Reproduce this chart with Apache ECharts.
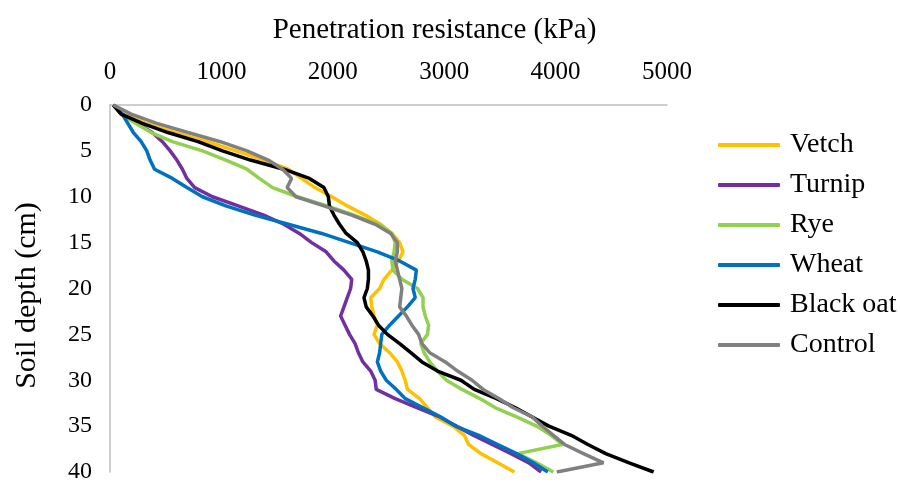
<!DOCTYPE html>
<html>
<head>
<meta charset="utf-8">
<script src="https://cdn.jsdelivr.net/npm/echarts@6/dist/echarts.min.js"></script>
<style>html,body{margin:0;padding:0;background:#fff;}#c{width:900px;height:484px;}</style>
</head>
<body>
<div id="c"></div>
<script>
const depths = [0,1,2,3,4,5,6,7,8,9,10,11,12,13,14,15,16,17,18,19,20,21,22,23,24,25,26,27,28,29,30,31,32,33,34,35,36,37,38,39,40];
const xTicks = [0,1000,2000,3000,4000,5000];
const yTicks = [0,5,10,15,20,25,30,35,40];
const vetch = [30,120,320,580,870,1130,1380,1600,1720,1840,1990,2130,2290,2430,2530,2600,2630,2590,2530,2460,2420,2340,2350,2370,2400,2370,2420,2510,2580,2620,2650,2670,2780,2850,2920,3080,3180,3220,3330,3480,3630];
const turnip = [30,110,240,380,470,540,600,650,690,760,920,1150,1380,1560,1700,1810,1940,2010,2100,2170,2160,2130,2100,2070,2110,2150,2200,2230,2270,2340,2380,2390,2560,2760,2960,3110,3260,3430,3600,3760,3870];
const rye = [30,100,230,370,560,830,1040,1230,1340,1460,1680,1950,2190,2410,2530,2560,2550,2530,2540,2620,2760,2810,2810,2830,2860,2850,2790,2820,2870,2940,3020,3160,3320,3460,3650,3830,3960,4060,3660,3830,3980];
const wheat = [30,110,160,210,280,330,360,400,560,690,830,1040,1300,1600,1900,2150,2400,2600,2750,2740,2720,2740,2670,2590,2510,2440,2430,2420,2400,2430,2480,2570,2650,2810,2970,3100,3310,3480,3650,3800,3930];
const blackOat = [30,100,290,520,790,1010,1260,1560,1790,1920,1960,1970,2010,2060,2120,2220,2270,2300,2320,2320,2310,2280,2300,2360,2410,2490,2600,2700,2800,2940,3150,3270,3470,3640,3790,3940,4140,4290,4450,4660,4880];
const control = [30,190,420,700,990,1230,1420,1550,1630,1590,1670,1920,2170,2380,2520,2580,2580,2560,2580,2600,2620,2610,2600,2660,2710,2770,2800,2870,3010,3120,3250,3350,3490,3620,3790,3880,3980,4080,4250,4430,4010];

const names = ['Vetch','Turnip','Rye','Wheat','Black oat','Control'];
const values = [vetch, turnip, rye, wheat, blackOat, control];
const colors = ['#FFC000','#7030A0','#92D050','#0070C0','#000000','#808080'];

const font = 'Liberation Serif, Times New Roman, serif';
const chart = echarts.init(document.getElementById('c'), null, {renderer:'canvas'});
chart.setOption({
  animation: false,
  backgroundColor: '#fff',
  textStyle: {fontFamily: font, color: '#000'},
  grid: {left: 110, right: 233, top: 105, bottom: 9, containLabel: false},
  legend: {
    orient: 'vertical', left: 713, top: 126,
    itemWidth: 62, itemHeight: 4, itemGap: 12,
    icon: 'roundRect',
    textStyle: {fontFamily: font, fontSize: 28, color: '#000', padding: [0,0,0,5]},
    data: names
  },
  xAxis: {
    type: 'value', position: 'top', min: xTicks[0], max: xTicks[xTicks.length-1], interval: 1000,
    name: 'Penetration resistance (kPa)', nameLocation: 'middle', nameGap: 60,
    nameTextStyle: {fontFamily: font, fontSize: 29, color: '#000', padding: [0,0,0,92]},
    axisLine: {show: true, lineStyle: {color: '#BFBFBF', width: 1.5}},
    axisTick: {show: false},
    splitLine: {show: false},
    axisLabel: {fontFamily: font, fontSize: 25, color: '#000', margin: 20, formatter: v => String(v)}
  },
  yAxis: {
    type: 'value', inverse: true, min: yTicks[0], max: yTicks[yTicks.length-1], interval: 5,
    name: 'Soil depth (cm)', nameLocation: 'middle', nameGap: 68, nameRotate: 90,
    nameTextStyle: {fontFamily: font, fontSize: 30, color: '#000', padding: [0,14,0,0]},
    axisLine: {show: true, lineStyle: {color: '#BFBFBF', width: 1.5}},
    axisTick: {show: false},
    splitLine: {show: false},
    axisLabel: {fontFamily: font, fontSize: 24, color: '#000', margin: 18, formatter: v => String(v)}
  },
  series: names.map((n, k) => ({
    name: n, type: 'line', symbol: 'none', smooth: false,
    color: colors[k],
    lineStyle: {width: 3.5, color: colors[k]},
    data: values[k].map((v, i) => [v, depths[i]])
  }))
});
</script>
</body>
</html>
